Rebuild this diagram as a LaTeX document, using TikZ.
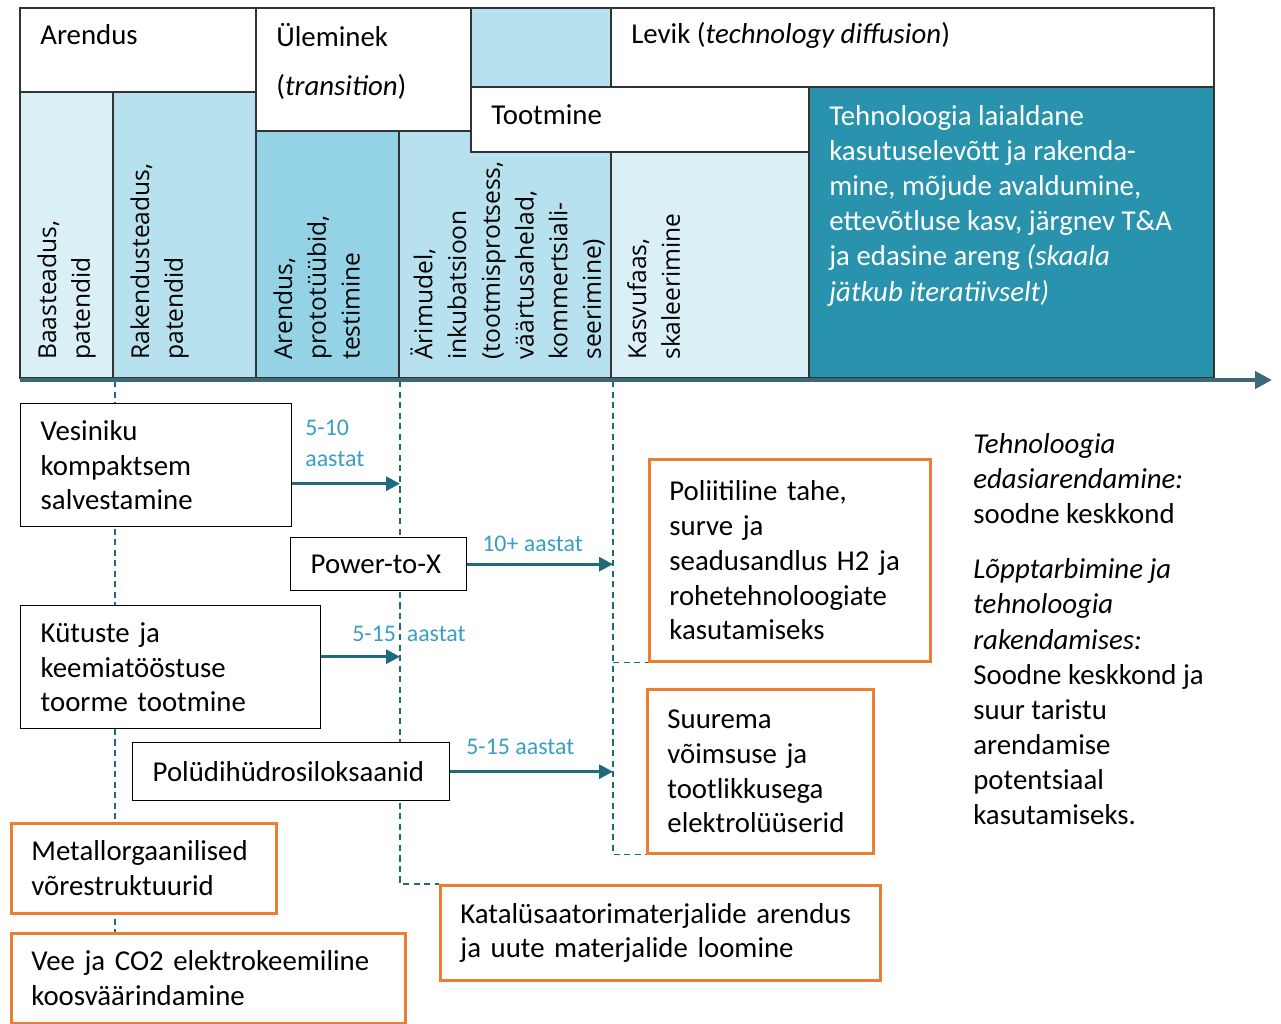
\documentclass[tikz,border=0pt]{standalone}
\usepackage{fontspec}
\setmainfont{Carlito}
\newfontfamily\rotfont{Open Sans}
\usetikzlibrary{arrows.meta, calc, backgrounds}
\definecolor{tvlight}{HTML}{DAEFF6}
\definecolor{tlight}{HTML}{B7E1EE}
\definecolor{tmid}{HTML}{93D3E5}
\definecolor{tdark}{HTML}{2993AE}
\definecolor{taxis}{HTML}{3C6878}
\definecolor{tarrow}{HTML}{1F6B7D}
\definecolor{tlabel}{HTML}{3A9EC3}
\definecolor{torange}{HTML}{ED7D31}
\newlength{\pxl}\setlength{\pxl}{0.02cm}
\tikzset{
  cell/.style={draw=black!80, line width=0.8pt},
  head/.style={anchor=west, inner sep=0pt, font=\fontsize{16.4}{20}\selectfont},
  phase/.style={rotate=90, anchor=north west, inner sep=0pt, align=left,
                font=\rotfont\fontsize{14}{19.2}\selectfont},
  box/.style={rectangle, draw=black, line width=0.8pt, fill=white, anchor=north west,
              inner xsep=20\pxl, inner ysep=0pt, align=left, font=\fontsize{16.4}{19.8}\selectfont},
  obox/.style={box, draw=torange, line width=1.6pt},
  flow/.style={-{Triangle[length=0.28cm, width=0.28cm]}, draw=tarrow, line width=1.7pt},
  axis/.style={-{Triangle[length=0.34cm, width=0.34cm]}, draw=taxis, line width=2.8pt},
  guide/.style={draw=tarrow, line width=0.6pt, dash pattern=on 3.5pt off 2.5pt},
  yrs/.style={anchor=west, inner sep=0pt, text=tlabel, align=left, font=\fontsize{13.6}{17.6}\selectfont}
}
\begin{document}
\begin{tikzpicture}[x=0.02cm, y=-0.02cm]
  \useasboundingbox (0,0) rectangle (1281,1024);
  % header
  \filldraw[cell, fill=white] (20,8) rectangle (256,92);
  \filldraw[cell, fill=white] (256,8) rectangle (471,131);
  \filldraw[cell, fill=tlight] (471,8) rectangle (611,87);
  \filldraw[cell, fill=white] (611,8) rectangle (1214,87);
  \filldraw[cell, fill=tvlight] (20,92) rectangle (113,378);
  \filldraw[cell, fill=tlight] (113,92) rectangle (256,378);
  \filldraw[cell, fill=tmid] (256,131) rectangle (399,378);
  \filldraw[cell, fill=tlight] (399,131) rectangle (611,378);
  \filldraw[cell, fill=tvlight] (611,152) rectangle (809,378);
  \filldraw[cell, fill=tdark] (809,87) rectangle (1214,378);
  \filldraw[cell, fill=white] (471,87) rectangle (809,152);
  \node[head] (arendus) at (40,35) {Arendus};
  \node[head] (ulem) at (276,35) {Üleminek};
  \node[head] (trans) at (276,87) {(\textit{transition})};
  \node[head] (levik) at (631,35) {Levik (\textit{technology diffusion})};
  \node[head] (tootm) at (491,115) {Tootmine};
  \node[phase] (baas) at (37,360) {Baasteadus,\\patendid};
  \node[phase] (rak) at (130,360) {Rakendusteadus,\\patendid};
  \node[phase] (proto) at (273,360) {Arendus,\\prototüübid,\\testimine};
  \node[phase] (ari) at (410,360) {Ärimudel,\\inkubatsioon\\(tootmisprotsess,\\väärtusahelad,\\kommertsiali-\\seerimine)};
  \node[phase] (kasv) at (627,360) {Kasvufaas,\\skaleerimine};
  \node[head, anchor=north west, align=left, text=white] (laial) at (829,105)
    {Tehnoloogia laialdane\\kasutuselevõtt ja rakenda-\\mine, mõjude avaldumine,\\ettevõtluse kasv, järgnev T\&A\\ja edasine areng \textit{(skaala}\\\textit{jätkub iteratiivselt)}};
  \draw[axis] (20,380) -- (1272,380);
  \coordinate (g1) at (115,381);
  \coordinate (g2) at (400,381);
  \coordinate (g3) at (613,381);
  % technologies
  \node[box, text width=231\pxl, minimum height=123\pxl] (vesi) at (20,403) {Vesiniku\\kompaktsem\\salvestamine};
  \node[box, text width=136\pxl, minimum height=53\pxl] (ptx) at (290,537) {Power-to-X};
  \node[box, text width=260\pxl, minimum height=123\pxl] (kyt) at (20,605) {Kütuste ja\\keemiatööstuse\\toorme tootmine};
  \node[box, text width=277\pxl, minimum height=58\pxl] (poly) at (132,742) {Polüdihüdrosiloksaanid};
  \node[obox, text width=225\pxl, minimum height=90\pxl] (metal) at (10,822) {Metallorgaanilised\\võrestruktuurid};
  \node[obox, text width=354\pxl, minimum height=90\pxl] (vee) at (10,932) {Vee ja CO2 elektrokeemiline\\koosväärindamine};
  \node[obox, text width=400\pxl, minimum height=95\pxl] (kata) at (439,884) {Katalüsaatorimaterjalide arendus\\ja uute materjalide loomine};
  \node[obox, text width=241\pxl, minimum height=202\pxl] (poli) at (648,458) {Poliitiline tahe,\\surve ja\\seadusandlus H2 ja\\rohetehnoloogiate\\kasutamiseks};
  \node[obox, text width=186\pxl, minimum height=164\pxl] (suur) at (646,688) {Suurema\\võimsuse ja\\tootlikkusega\\elektrolüüserid};
  \node[head, anchor=north west, align=left] (note) at (973,433)
    {\textit{Tehnoloogia}\\\textit{edasiarendamine:}\\soodne keskkond\\[20\pxl]\textit{Lõpptarbimine ja}\\\textit{tehnoloogia}\\\textit{rakendamises:}\\Soodne keskkond ja\\suur taristu\\arendamise\\potentsiaal\\kasutamiseks.};
  \begin{scope}[on background layer]
    \draw[guide] (g1) -- (g1 |- vee.north);
    \draw[guide] (g2) |- (kata.north west);
    \draw[guide] (g3) |- (suur.south west);
    \draw[guide] (poli.south west -| g3) -- (poli.south west);
  \end{scope}
  \coordinate (vesiout) at ($(vesi.east)+(0,18.5)$);
  \coordinate (kytout) at ($(kyt.east)+(0,-10.5)$);
  \draw[flow] (vesiout) -- (vesiout -| g2);
  \draw[flow] (ptx.east) -- (ptx.east -| g3);
  \draw[flow] (kytout) -- (kytout -| g2);
  \draw[flow] (poly.east) -- (poly.east -| g3);
  \node[yrs] (y1) at (305,443.5) {5-10\\aastat};
  \node[yrs] (y2) at (482,544) {10+ aastat};
  \node[yrs] (y3) at (352,634) {5-15~~aastat};
  \node[yrs] (y4) at (466,747) {5-15 aastat};
\end{tikzpicture}
\end{document}
